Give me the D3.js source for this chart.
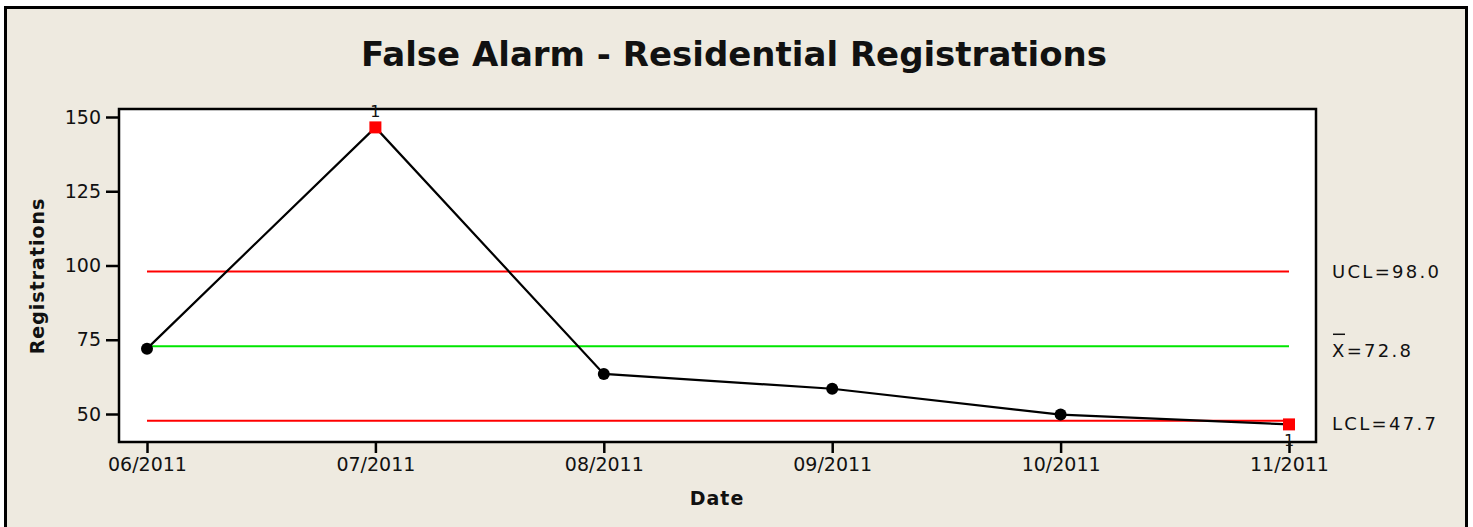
<!DOCTYPE html>
<html>
<head>
<meta charset="utf-8">
<script src="https://cdn.jsdelivr.net/npm/d3@7"></script>
<style>
  body { margin: 0; background: #fff; }
  text { font-family: "DejaVu Sans", Verdana, sans-serif; fill: #111; }
</style>
</head>
<body>
<svg width="1473" height="527"></svg>
<script>
// data
var months = ["06/2011", "07/2011", "08/2011", "09/2011", "10/2011", "11/2011"];
var registrations = [72, 146.5, 63.5, 58.5, 49.8, 46.5];
var flagged = [false, true, false, false, false, true];
var limitNames = ["UCL", "Xbar", "LCL"];
var limitValues = [98.0, 72.8, 47.7];
var yTicks = [50, 75, 100, 125, 150];

var svg = d3.select("svg");
var plot = {left: 119, top: 109, right: 1316, bottom: 442};

// background panel
svg.append("rect")
    .attr("x", 5.5).attr("y", 7.5)
    .attr("width", 1461).attr("height", 540)
    .attr("fill", "#eeeae0").attr("stroke", "#000").attr("stroke-width", 3);

svg.append("rect")
    .attr("x", plot.left).attr("y", plot.top)
    .attr("width", plot.right - plot.left).attr("height", plot.bottom - plot.top)
    .attr("fill", "#fff").attr("stroke", "#000").attr("stroke-width", 2.5);

var x = d3.scalePoint().domain(months).range([147, 1289]);
var y = d3.scaleLinear().domain([50, 150]).range([414, 117]);

// axes
var yAxis = svg.append("g")
    .attr("transform", "translate(" + plot.left + ",0)")
    .call(d3.axisLeft(y).tickValues(yTicks).tickSize(13).tickPadding(5));
var xAxis = svg.append("g")
    .attr("transform", "translate(0," + plot.bottom + ")")
    .call(d3.axisBottom(x).tickSize(11).tickPadding(5));
[yAxis, xAxis].forEach(function (g) {
    g.select(".domain").remove();
    g.selectAll("line").attr("stroke", "#000").attr("stroke-width", 2.5);
    g.selectAll("text").style("font-size", "19px").attr("fill", "#111");
});

// control limits
var limitColor = ["#ff0000", "#00e600", "#ff0000"];
svg.append("g").selectAll("line").data(limitValues).enter().append("line")
    .attr("x1", x(months[0])).attr("x2", x(months[months.length - 1]))
    .attr("y1", function (d) { return y(d); })
    .attr("y2", function (d) { return y(d); })
    .attr("stroke", function (d, i) { return limitColor[i]; })
    .attr("stroke-width", 2);

// series line
var line = d3.line()
    .x(function (d, i) { return x(months[i]); })
    .y(function (d) { return y(d); });
svg.append("path").datum(registrations)
    .attr("d", line)
    .attr("fill", "none").attr("stroke", "#000").attr("stroke-width", 2.2);

var pts = registrations.map(function (v, i) { return {m: months[i], v: v, flag: flagged[i]}; });
svg.append("g").selectAll("circle").data(pts.filter(function (d) { return !d.flag; }))
    .enter().append("circle")
    .attr("cx", function (d) { return x(d.m); })
    .attr("cy", function (d) { return y(d.v); })
    .attr("r", 6).attr("fill", "#000");

var bad = pts.filter(function (d) { return d.flag; });
svg.append("g").selectAll("rect").data(bad).enter().append("rect")
    .attr("x", function (d) { return x(d.m) - 6; })
    .attr("y", function (d) { return y(d.v) - 6; })
    .attr("width", 12).attr("height", 12).attr("fill", "#ff0000");

// test-failure labels: above if over UCL, below if under LCL
svg.append("g").selectAll("text").data(bad).enter().append("text")
    .attr("x", function (d) { return x(d.m); })
    .attr("y", function (d) { return d.v > limitValues[0] ? y(d.v) - 10 : y(d.v) + 22; })
    .attr("text-anchor", "middle")
    .style("font-size", "16px")
    .text("1");

// limit labels
var lab = svg.append("g");
lab.append("text").attr("x", 1332).attr("y", y(limitValues[0]) + 7)
    .style("font-size", "18px").style("letter-spacing", "2.3px")
    .text("UCL=" + limitValues[0].toFixed(1));
lab.append("text").attr("x", 1332).attr("y", y(limitValues[1]) + 11)
    .style("font-size", "18px").style("letter-spacing", "2.3px")
    .text("X=" + limitValues[1].toFixed(1));
lab.append("line")
    .attr("x1", 1333).attr("x2", 1345)
    .attr("y1", y(limitValues[1]) - 12).attr("y2", y(limitValues[1]) - 12)
    .attr("stroke", "#111").attr("stroke-width", 1.5);
lab.append("text").attr("x", 1332).attr("y", y(limitValues[2]) + 9)
    .style("font-size", "18px").style("letter-spacing", "2.3px")
    .text("LCL=" + limitValues[2].toFixed(1));

// titles
svg.append("text")
    .attr("x", 734).attr("y", 66)
    .attr("text-anchor", "middle")
    .style("font-size", "34px").style("font-weight", "bold")
    .text("False Alarm - Residential Registrations");

svg.append("text")
    .attr("x", 717).attr("y", 505)
    .attr("text-anchor", "middle")
    .style("font-size", "19px").style("font-weight", "bold").style("letter-spacing", "1px")
    .text("Date");

svg.append("text")
    .attr("transform", "translate(44,276) rotate(-90)")
    .attr("text-anchor", "middle")
    .style("font-size", "19px").style("font-weight", "bold").style("letter-spacing", "1px")
    .text("Registrations");
</script>
</body>
</html>
